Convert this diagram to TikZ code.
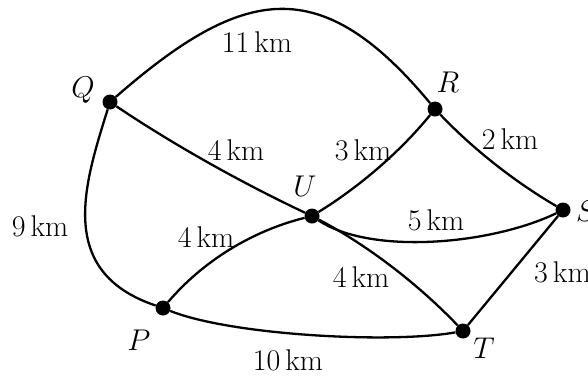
\RequirePackage{fix-cm}
\documentclass[tikz,border=0pt]{standalone}
\begin{document}
\begin{tikzpicture}[x=1pt,y=-1pt,
  dot/.style={circle,fill=black,inner sep=0pt,minimum size=15pt},
  lbl/.style={inner sep=0pt,font=\fontsize{30}{34}\selectfont},
  edge/.style={line width=2.3pt}]
\useasboundingbox (0,0) rectangle (588,376);
\clip (0,0) rectangle (588,376);
\fill[white] (0,0) rectangle (588,376);
% vertices
\node[dot] (Q) at (110,102) {};
\node[dot] (R) at (435,109) {};
\node[dot] (U) at (312,216) {};
\node[dot] (S) at (563,210) {};
\node[dot] (P) at (163,308) {};
\node[dot] (T) at (463,331) {};
% edges
\draw[edge] (Q) .. controls (244,-15) and (321,-28) .. (R);
\draw[edge] (Q) .. controls (174,145) and (242,183) .. (U);
\draw[edge] (Q) .. controls (84,185) and (56,272) .. (P);
\draw[edge] (U) .. controls (359,187) and (400,152) .. (R);
\draw[edge] (R) .. controls (473,149) and (515,182) .. (S);
\draw[edge] (U) .. controls (370,255) and (490,245) .. (S);
\draw[edge] (P) .. controls (203,261) and (252,231) .. (U);
\draw[edge] (U) .. controls (369,246) and (419,285) .. (T);
\draw[edge] (P) .. controls (230,335) and (390,344) .. (T);
\draw[edge] (T) -- (S);
% vertex labels
\node[lbl] (lQ) at (83,90) {$Q$};
\node[lbl] (lR) at (448,82) {$R$};
\node[lbl] (lU) at (305,186) {$U$};
\node[lbl,anchor=west] (lS) at (576,211) {$S$};
\node[lbl] (lP) at (139,340) {$P$};
\node[lbl] (lT) at (484,348) {$T$};
% edge labels
\node[lbl] (e1) at (257,42) {11\,km};
\node[lbl] (e2) at (236,150) {4\,km};
\node[lbl] (e3) at (363,150) {3\,km};
\node[lbl] (e4) at (510,139) {2\,km};
\node[lbl] (e5) at (436,220) {5\,km};
\node[lbl] (e6) at (40,226) {9\,km};
\node[lbl] (e7) at (206,237) {4\,km};
\node[lbl] (e8) at (361,277) {4\,km};
\node[lbl,anchor=west] (e9) at (534,272) {3\,km};
\node[lbl] (e10) at (288,360) {10\,km};
\end{tikzpicture}
\end{document}
